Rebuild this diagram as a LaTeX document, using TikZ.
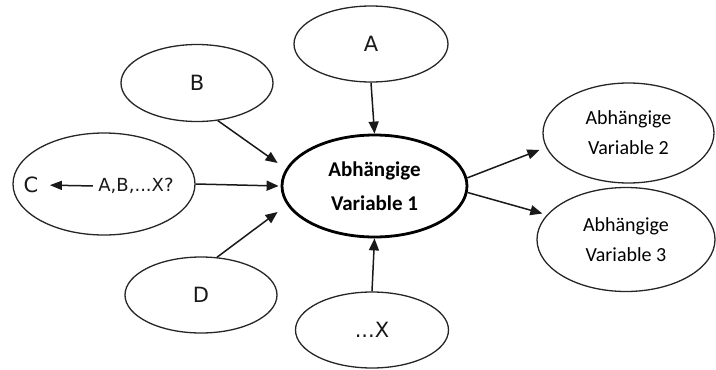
\documentclass[tikz,border=0pt]{standalone}
\usepackage{fontspec}
\setmainfont{DejaVu Sans}
\newfontfamily\cfont{Carlito}
\usetikzlibrary{shapes.geometric,arrows.meta}
\begin{document}
\begin{tikzpicture}[x=1pt,y=-1pt,
  oval/.style={ellipse,draw=black!85,line width=1.3pt,inner sep=0pt},
  letter/.style={font=\fontsize{21}{25}\selectfont,text=black!90},
  small/.style={font=\fontsize{18}{22}\selectfont,text=black!90},
  dep/.style={oval,align=center,text=black,font=\cfont\fontsize{20}{30}\selectfont},
  conn/.style={line width=1.5pt,draw=black!90,-{Triangle[length=12pt,width=10pt]}},
  sconn/.style={line width=1.5pt,draw=black!90,-{Triangle[length=12pt,width=9pt]}}]
\useasboundingbox (0,0) rectangle (716,370);
\node[oval,minimum width=154pt,minimum height=76pt] (A) at (371,44) {};
\node[letter] at (A.center) {A};
\node[oval,minimum width=152pt,minimum height=77pt] (B) at (197,83) {};
\node[letter] at (B.center) {B};
\node[oval,minimum width=182pt,minimum height=102pt] (C) at (104,184) {};
\node[letter] (cl) at (31,185) {C};
\node[small] (cq) at (136,186) {A,B,...X?};
\node[oval,minimum width=152pt,minimum height=76pt] (D) at (201,295) {};
\node[letter] at (D.center) {D};
\node[oval,minimum width=153pt,minimum height=76pt] (X) at (372,330) {};
\node[letter] at (X.center) {...X};
\node[oval,line width=2.8pt,draw=black,minimum width=185pt,minimum height=102pt,align=center,
  font=\cfont\bfseries\fontsize{21}{34}\selectfont] (M) at (374.5,186) {Abhängige\\Variable 1};
\node[dep,minimum width=171pt,minimum height=100pt] (V2) at (628.5,133) {Abhängige\\Variable 2};
\node[dep,minimum width=178pt,minimum height=104pt] (V3) at (626,239.5) {Abhängige\\Variable 3};
\draw[sconn,shorten <=2pt,shorten >=8pt] (cq.west) -- (cl.east);
\draw[conn] (A.south) -- (M.north);
\draw[conn] (X.north) -- (M.south);
\draw[conn] (B.-61) -- ([shift={(-3,-23)}]M.west);
\draw[conn] (C.east) -- ([shift={(-2,0)}]M.west);
\draw[conn] (D.67) -- ([shift={(-3,26)}]M.west);
\draw[conn] (M.5) -- ([shift={(-3,17)}]V2.west);
\draw[conn] (M.-4) -- ([shift={(6,-26)}]V3.west);
\end{tikzpicture}
\end{document}
